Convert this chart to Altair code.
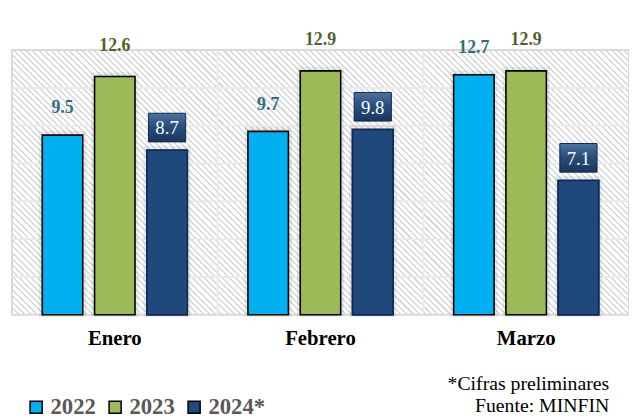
import altair as alt
import pandas as pd

# ---- data ----
months = ["Enero", "Febrero", "Marzo"]
series = ["2022", "2023", "2024*"]
v2022 = [9.5, 9.7, 12.7]
v2023 = [12.6, 12.9, 12.9]
v2024 = [8.7, 9.8, 7.1]
grid_values = [2, 4, 6, 8, 10, 12]
notes = ["*Cifras preliminares", "Fuente: MINFIN"]

bar_colors = ["#00B0F0", "#9BBB59", "#1F497D"]

rows = []
for s, vals in zip(series, [v2022, v2023, v2024]):
    for m, v in zip(months, vals):
        rows.append({"month": m, "series": s, "value": v})
df = pd.DataFrame(rows)

W, H = 625, 268
FONT = "Liberation Serif"

# hatch background (diagonal stripes) built as a linear gradient
N = 143
frac = 0.33
stops = []
for i in range(N):
    a = i / N
    b = (i + frac) / N
    c = (i + 1) / N
    stops += [
        alt.GradientStop(color="#D9D9D9", offset=a),
        alt.GradientStop(color="#D9D9D9", offset=b),
        alt.GradientStop(color="#FFFFFF", offset=b),
        alt.GradientStop(color="#FFFFFF", offset=c),
    ]
gx, gy = W, -H
t = (W + H) / (gx * gx + gy * gy)
hatch = alt.LinearGradient(
    gradient="linear", stops=stops,
    x1=0, y1=1, x2=gx * t, y2=1 + gy * t,
)

x_axis = alt.Axis(
    labelFont=FONT, labelFontSize=21, labelFontWeight="bold",
    labelColor="#000000", labelAngle=0, labelAlign="center",
    bandPosition=0.5, ticks=False, tickSize=0,
    domain=False, grid=False, labelPadding=24, labelBaseline="middle",
)
x_scale = alt.Scale(paddingInner=0, paddingOuter=0)
x_enc = alt.X("month:N", sort=months, title=None, scale=x_scale, axis=x_axis)
xo_enc = alt.XOffset(
    "series:N", sort=series,
    scale=alt.Scale(domain=series, paddingInner=0.226, paddingOuter=0.58),
)
y_scale = alt.Scale(domain=[0, 14], nice=False)
y_enc = alt.Y("value:Q", scale=y_scale, axis=None)

background = alt.Chart(alt.Data(values=[{}])).mark_rect(
    fill=hatch, stroke="#D9D9D9", strokeWidth=2
).encode(
    x=alt.value(0), x2=alt.value("width"),
    y=alt.value(0), y2=alt.value("height"),
)

hgrid = alt.Chart(alt.Data(values=[{"v": v} for v in grid_values])).mark_rule(
    color="#EAEAEA", strokeWidth=2
).encode(y=alt.Y("v:Q", scale=y_scale, axis=None))

vgrid = alt.Chart(df).transform_filter(
    (alt.datum.series == "2022") & (alt.datum.month != "Enero")
).mark_rule(color="#EAEAEA", strokeWidth=2).encode(
    x=alt.X("month:N", sort=months, bandPosition=0, title=None,
            scale=x_scale, axis=x_axis),
)

base = alt.Chart(df).encode(x=x_enc, xOffset=xo_enc, y=y_enc)

shadow = base.mark_bar(
    fill="#000000", fillOpacity=0.10, stroke="#000000",
    strokeOpacity=0.07, strokeWidth=7, xOffset=3, yOffset=-1,
)

bars = base.mark_bar(stroke="#000000", strokeWidth=1.6).encode(
    color=alt.Color(
        "series:N", sort=series,
        scale=alt.Scale(domain=series, range=bar_colors),
        legend=alt.Legend(
            orient="none", legendX=13, legendY=350, direction="horizontal",
            title=None, symbolType="square", symbolSize=150,
            symbolStrokeColor="#000000", symbolStrokeWidth=1.5,
            symbolOpacity=1, labelFont=FONT, labelFontSize=23,
            labelFontWeight="bold", labelColor="#595959",
            labelOffset=3, columnPadding=8,
        ),
    ),
)

# navy outline on the 2024 bars
bars24 = base.transform_filter(alt.datum.series == "2024*").mark_bar(
    fill="#1F497D", stroke="#0B2A5C", strokeWidth=1.6
)

lab22 = base.transform_filter(alt.datum.series == "2022").mark_text(
    font=FONT, fontSize=18, fontWeight="bold", color="#2E6E80",
    dy=-27, baseline="middle",
).encode(text=alt.Text("value:Q", format=".1f"))

lab23 = base.transform_filter(alt.datum.series == "2023").mark_text(
    font=FONT, fontSize=18, fontWeight="bold", color="#4F6228",
    dy=-31, baseline="middle",
).encode(text=alt.Text("value:Q", format=".1f"))

box_fill = alt.LinearGradient(
    gradient="linear",
    stops=[
        alt.GradientStop(color="#4C72A0", offset=0),
        alt.GradientStop(color="#2A4F7E", offset=0.45),
        alt.GradientStop(color="#17375E", offset=1),
    ],
    x1=0, y1=0, x2=0, y2=1,
)
box24 = base.transform_filter(alt.datum.series == "2024*").mark_point(
    shape="M-1.3,-1L1.3,-1L1.3,1L-1.3,1Z", size=841, filled=True,
    fill=box_fill, stroke="#10284A", strokeWidth=1, opacity=1,
    yOffset=-23,
)
lab24 = base.transform_filter(alt.datum.series == "2024*").mark_text(
    font=FONT, fontSize=19, color="#FFFFFF", dy=-22, baseline="middle",
).encode(text=alt.Text("value:Q", format=".1f"))

note_text = alt.Chart(alt.Data(values=[{}])).mark_text(
    font=FONT, fontSize=20, color="#000000", align="right",
    baseline="middle", lineHeight=23,
).encode(
    text=alt.value(notes),
    x=alt.value(W - 20), y=alt.value(H + 70),
)

chart = alt.layer(
    background, hgrid, vgrid, shadow, bars, bars24, lab22, lab23, box24,
    lab24, note_text,
).properties(
    width=W, height=H,
    autosize=alt.AutoSizeParams(type="none"),
    padding={"left": 4, "top": 40, "right": 0, "bottom": 104},
).configure_view(stroke=None).configure_legend(labelFont=FONT)

chart.save("out.html", embed_options={"renderer": "svg", "actions": False})
